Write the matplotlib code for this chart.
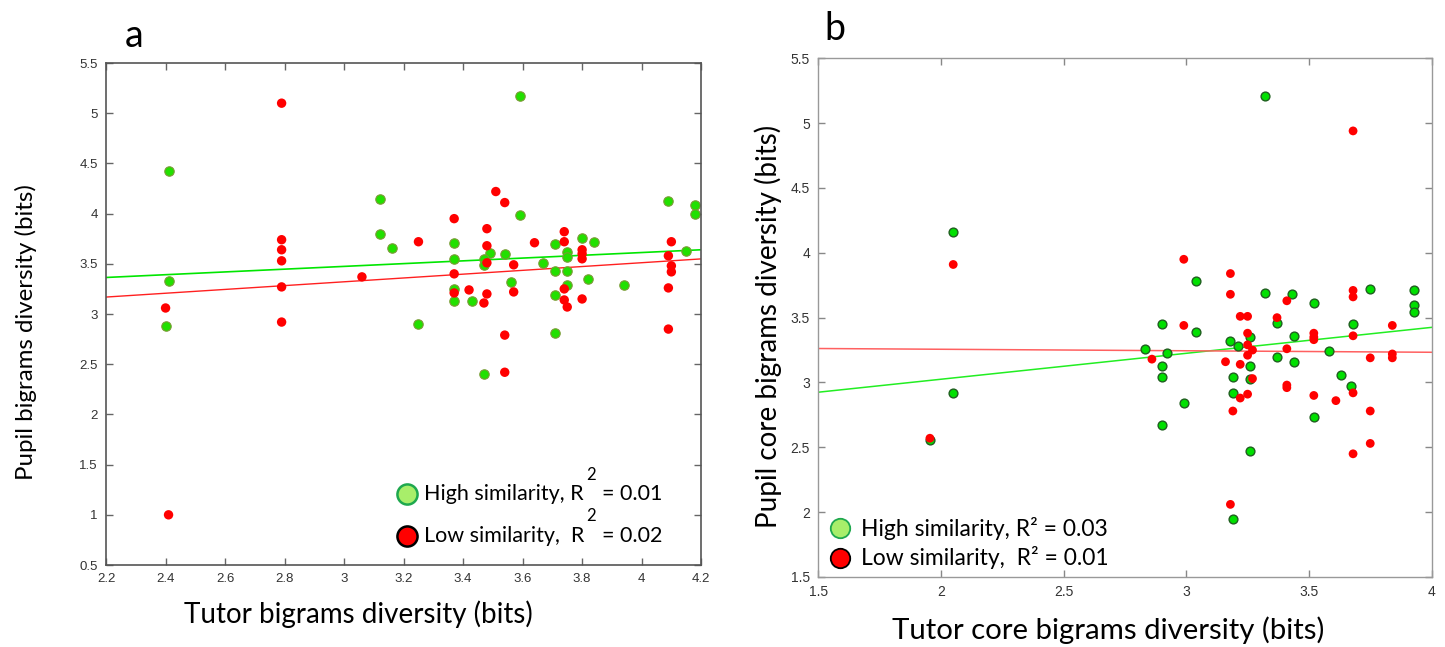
import numpy as np
import matplotlib
matplotlib.use('Agg')
import matplotlib.pyplot as plt

# panel a: tutor vs pupil bigram diversity (bits)
a_high_x = [2.41, 2.41, 2.40, 3.12, 3.12, 3.16, 3.25, 3.59, 3.59, 3.37, 3.49, 3.47, 3.47,
            3.37, 3.37, 3.37, 3.43, 3.54, 3.56, 3.67, 3.71, 3.75, 3.75, 3.71, 3.75, 3.75,
            3.71, 3.71, 3.80, 3.84, 3.82, 3.94, 4.09, 4.15, 4.18, 4.18, 3.47]
a_high_y = [4.42, 3.33, 2.88, 4.15, 3.80, 3.66, 2.90, 5.17, 3.99, 3.71, 3.61, 3.55, 3.49,
            3.55, 3.25, 3.13, 3.13, 3.60, 3.32, 3.51, 3.70, 3.62, 3.57, 3.43, 3.43, 3.29,
            3.19, 2.81, 3.76, 3.72, 3.35, 3.29, 4.13, 3.63, 4.09, 4.00, 2.40]
a_low_x = [2.79, 2.79, 2.79, 2.79, 2.79, 2.79, 2.40, 2.41, 3.06, 3.25, 3.51, 3.54, 3.37,
           3.48, 3.48, 3.48, 3.37, 3.37, 3.42, 3.48, 3.47, 3.57, 3.57, 3.54, 3.54, 3.64,
           3.74, 3.74, 3.74, 3.74, 3.75, 3.80, 3.80, 3.80, 3.80, 4.10, 4.09, 4.10, 4.10,
           4.09, 4.09]
a_low_y = [5.10, 3.74, 3.64, 3.53, 3.27, 2.92, 3.06, 1.00, 3.37, 3.72, 4.22, 4.11, 3.95,
           3.85, 3.68, 3.51, 3.40, 3.21, 3.24, 3.20, 3.11, 3.49, 3.22, 2.79, 2.42, 3.71,
           3.82, 3.72, 3.25, 3.14, 3.07, 3.64, 3.60, 3.55, 3.15, 3.72, 3.58, 3.48, 3.42,
           3.26, 2.85]
# fitted lines: (intercept at x=0, slope)
a_high_fit = (3.364 - 0.138 * 2.2, 0.138)
a_low_fit = (3.169 - 0.19 * 2.2, 0.19)
a_r2 = ['0.01', '0.02']

# panel b: core bigrams
b_high_x = [2.05, 2.05, 1.955, 3.32, 3.04, 3.32, 3.43, 3.52, 3.75, 3.93, 3.93, 3.93, 2.90,
            3.04, 3.37, 3.18, 3.26, 3.44, 3.68, 2.83, 2.92, 2.90, 2.90, 2.99, 2.90, 3.21,
            3.26, 3.19, 3.26, 3.19, 3.26, 3.19, 3.37, 3.44, 3.52, 3.58, 3.63, 3.67]
b_high_y = [4.16, 2.92, 2.56, 5.21, 3.78, 3.69, 3.68, 3.61, 3.72, 3.71, 3.60, 3.54, 3.45,
            3.39, 3.46, 3.32, 3.35, 3.36, 3.45, 3.26, 3.23, 3.13, 3.04, 2.84, 2.67, 3.28,
            3.13, 3.04, 3.03, 2.92, 2.47, 1.95, 3.20, 3.16, 2.73, 3.24, 3.06, 2.97]
b_low_x = [2.05, 1.955, 3.68, 2.99, 3.18, 3.18, 3.41, 3.68, 3.68, 2.99, 3.22, 3.25, 3.37,
           3.25, 3.52, 3.52, 3.52, 3.68, 3.84, 2.86, 3.16, 3.22, 3.25, 3.27, 3.25, 3.27,
           3.22, 3.25, 3.19, 3.18, 3.41, 3.41, 3.41, 3.52, 3.61, 3.68, 3.68, 3.75, 3.75,
           3.75, 3.84, 3.84]
b_low_y = [3.91, 2.57, 4.94, 3.95, 3.84, 3.68, 3.63, 3.71, 3.66, 3.44, 3.51, 3.51, 3.50,
           3.38, 3.38, 3.35, 3.33, 3.36, 3.44, 3.18, 3.16, 3.14, 3.29, 3.25, 3.21, 3.03,
           2.88, 2.91, 2.78, 2.06, 3.26, 2.98, 2.96, 2.90, 2.86, 2.92, 2.45, 3.19, 2.78,
           2.53, 3.22, 3.19]
b_high_fit = (2.925 - 0.2 * 1.5, 0.2)
b_low_fit = (3.262 + 0.0116 * 1.5, -0.0116)
b_r2 = ['0.03', '0.01']

label_font = 'Lato'
tick_font = 'Liberation Sans'

fig = plt.figure(figsize=(14.45, 6.47), dpi=100)
axa = fig.add_axes([0.0734, 0.1267, 0.4118, 0.7759])
axb = fig.add_axes([0.5663, 0.1082, 0.4244, 0.8017])

# ---- panel a ----
xs = np.array([2.2, 4.2])
axa.plot(xs, a_high_fit[0] + a_high_fit[1] * xs, color='#00e600', lw=1.2, zorder=1)
axa.plot(xs, a_low_fit[0] + a_low_fit[1] * xs, color='#ff2020', lw=1.0, zorder=1)
axa.scatter(a_high_x, a_high_y, s=46, c='#22e000', edgecolors='#7a9a35', linewidths=0.8, zorder=2)
axa.scatter(a_low_x, a_low_y, s=46, c='#ff0000', edgecolors='none', zorder=3)
axa.set_xlim(2.2, 4.2)
axa.set_ylim(0.5, 5.5)
axa.set_xticks(np.arange(2.2, 4.21, 0.2))
axa.set_xticklabels(['2.2', '2.4', '2.6', '2.8', '3', '3.2', '3.4', '3.6', '3.8', '4', '4.2'])
axa.set_yticks(np.arange(0.5, 5.51, 0.5))
axa.set_yticklabels(['0.5', '1', '1.5', '2', '2.5', '3', '3.5', '4', '4.5', '5', '5.5'])
for sp in axa.spines.values():
    sp.set_color('#555555')
    sp.set_linewidth(1.2)
axa.tick_params(direction='in', top=True, right=True, length=5, width=1, color='#666666',
                labelsize=9.5, labelcolor='#333333', pad=6)
for lab in axa.get_xticklabels() + axa.get_yticklabels():
    lab.set_family(tick_font)
axa.set_xlabel('Tutor bigrams diversity (bits)', fontsize=20, family=label_font)
axa.xaxis.set_label_coords(0.4235, -0.0976)
axa.xaxis.label.set_va('center')
axa.set_ylabel('Pupil bigrams diversity (bits)', fontsize=17.3, family=label_font)
axa.yaxis.set_label_coords(-0.134, 0.464)
axa.yaxis.label.set_va('center')

# legend a (hand-built to keep the detached superscript)
leg_a = [('High similarity, R', '#a8ee6a', '#1ea84e', 0.141),
         ('Low similarity,  R', '#ff0000', '#000000', 0.058)]
for (txt, fc, ec, yy), r2 in zip(leg_a, a_r2):
    axa.plot([0.505], [yy], 'o', ms=14.5, mfc=fc, mec=ec, mew=1.8, transform=axa.transAxes,
             clip_on=False)
    axa.text(0.535, yy, txt, fontsize=15.5, family=label_font, va='center', transform=axa.transAxes)
    axa.text(0.815, yy + 0.039, '2', fontsize=12, family=label_font, va='center', ha='center',
             transform=axa.transAxes)
    axa.text(0.833, yy, '= ' + r2, fontsize=15.5, family=label_font, va='center',
             transform=axa.transAxes)

# ---- panel b ----
xs = np.array([1.5, 4.0])
axb.plot(xs, b_high_fit[0] + b_high_fit[1] * xs, color='#22ee22', lw=1.1, zorder=1)
axb.plot(xs, b_low_fit[0] + b_low_fit[1] * xs, color='#ff6060', lw=1.1, zorder=1)
axb.scatter(b_high_x, b_high_y, s=40, c='#00e000', edgecolors='#1f5f1f', linewidths=1.0, zorder=2)
axb.scatter(b_low_x, b_low_y, s=40, c='#ff0000', edgecolors='none', zorder=3)
axb.set_xlim(1.5, 4.0)
axb.set_ylim(1.5, 5.5)
axb.set_xticks([1.5, 2, 2.5, 3, 3.5, 4])
axb.set_xticklabels(['1.5', '2', '2.5', '3', '3.5', '4'])
axb.set_yticks(np.arange(1.5, 5.51, 0.5))
axb.set_yticklabels(['1.5', '2', '2.5', '3', '3.5', '4', '4.5', '5', '5.5'])
for sp in axb.spines.values():
    sp.set_color('#999999')
    sp.set_linewidth(1.0)
axb.tick_params(direction='in', top=True, right=True, length=5, width=1, color='#888888',
                labelsize=10, labelcolor='#333333', pad=6)
for lab in axb.get_xticklabels() + axb.get_yticklabels():
    lab.set_family(tick_font)
axb.set_xlabel('Tutor core bigrams diversity (bits)', fontsize=21.2, family=label_font)
axb.xaxis.set_label_coords(0.4726, -0.102)
axb.xaxis.label.set_va('center')
axb.set_ylabel('Pupil core bigrams diversity (bits)', fontsize=20, family=label_font)
axb.yaxis.set_label_coords(-0.082, 0.484)
axb.yaxis.label.set_va('center')

leg_b = [('High similarity, R\u00b2 = ', '#a8ee6a', '#1ea84e', 0.094),
         ('Low similarity,  R\u00b2 = ', '#ff0000', '#000000', 0.037)]
for (txt, fc, ec, yy), r2 in zip(leg_b, b_r2):
    axb.plot([0.035], [yy], 'o', ms=14, mfc=fc, mec=ec, mew=1.3, transform=axb.transAxes,
             clip_on=False)
    axb.text(0.07, yy, txt + r2, fontsize=16.5, family=label_font, va='center',
             transform=axb.transAxes)

fig.text(0.093, 0.945, 'a', fontsize=27, family=label_font, va='center', ha='center')
fig.text(0.578, 0.955, 'b', fontsize=27, family=label_font, va='center', ha='center')

fig.savefig('out.png', dpi=100)
